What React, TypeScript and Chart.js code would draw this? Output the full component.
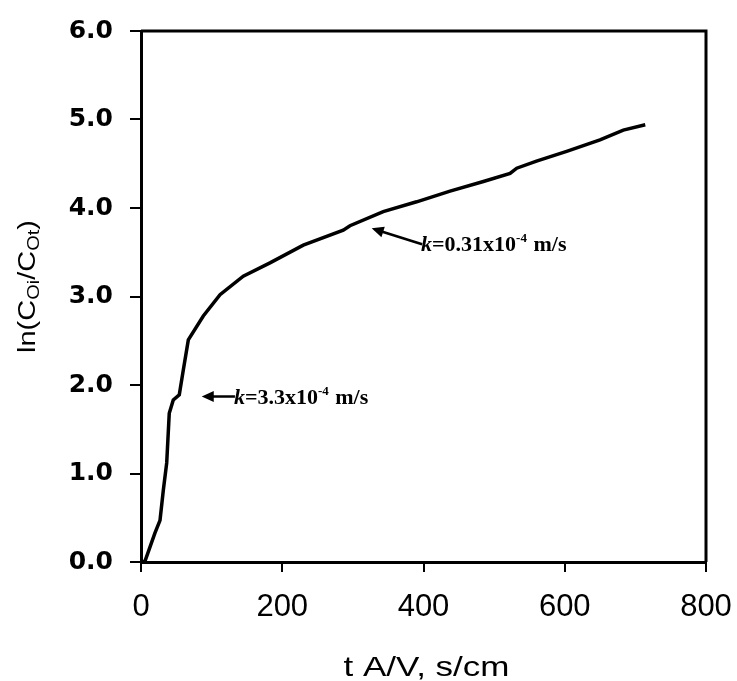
import React, { useEffect, useRef } from "react";
import { Chart, registerables } from "chart.js";

Chart.register(...registerables);

// Data
const tValues = [0, 5.7, 19.8, 26.9, 31.6, 36.4, 40, 45.7, 54.2, 59.9, 67, 88.2, 111.9, 144.8, 182.6, 229.8, 286.4, 295.9, 343, 390.3, 437.6, 484.8, 522.6, 532, 560, 602.7, 649.9, 682.9, 714];
const lnValues = [0, 0.01, 0.33, 0.47, 0.81, 1.12, 1.68, 1.83, 1.89, 2.17, 2.51, 2.78, 3.02, 3.23, 3.38, 3.58, 3.75, 3.8, 3.96, 4.07, 4.19, 4.3, 4.39, 4.45, 4.53, 4.64, 4.77, 4.88, 4.94];

const xTickValues = [0, 200, 400, 600, 800];
const yTickValues = [0, 1, 2, 3, 4, 5, 6];

const xTitle = "t A/V, s/cm";
const yTitleParts = [
  { text: "ln(C", sub: false },
  { text: "Oi", sub: true },
  { text: "/C", sub: false },
  { text: "Ot", sub: true },
  { text: ")", sub: false },
];

// annotations: arrow tip (data), arrow tail (data), label text
const annotations = [
  { tipX: 86, tipY: 1.87, tailX: 133, tailY: 1.87, pre: "=3.3x10", sup: "-4", post: " m/s" },
  { tipX: 326.6, tipY: 3.77, tailX: 398, tailY: 3.59, pre: "=0.31x10", sup: "-4", post: " m/s" },
];

const SANS = "'Liberation Sans', Arial, sans-serif";
const SERIF = "'Liberation Serif', 'Times New Roman', serif";

const overlayPlugin = {
  id: "overlay",
  afterDraw(chart: any) {
    const ctx = chart.ctx as CanvasRenderingContext2D;
    const area = chart.chartArea;
    const xs = chart.scales.x;
    const ys = chart.scales.y;
    ctx.save();

    // top and right frame lines
    ctx.strokeStyle = "#000";
    ctx.lineWidth = 3;
    ctx.beginPath();
    ctx.moveTo(area.left, area.top);
    ctx.lineTo(area.right, area.top);
    ctx.lineTo(area.right, area.bottom);
    ctx.stroke();

    // x title
    ctx.save();
    ctx.fillStyle = "#000";
    ctx.font = `28px ${SANS}`;
    ctx.textBaseline = "alphabetic";
    ctx.textAlign = "center";
    ctx.translate((area.left + area.right) / 2 + 3, 676);
    ctx.scale(1.25, 1);
    ctx.fillText(xTitle, 0, 0);
    ctx.restore();

    // y title with subscripts
    ctx.save();
    ctx.fillStyle = "#000";
    const mainSize = 29;
    const subSize = 20;
    ctx.translate(26, (area.top + area.bottom) / 2 - 10);
    ctx.rotate(-Math.PI / 2);
    ctx.scale(1, 0.85);
    let total = 0;
    const widths: number[] = [];
    for (const p of yTitleParts) {
      ctx.font = `${p.sub ? subSize : mainSize}px ${SANS}`;
      const w = ctx.measureText(p.text).width;
      widths.push(w);
      total += w;
    }
    let cx = -total / 2;
    ctx.textAlign = "left";
    ctx.textBaseline = "alphabetic";
    yTitleParts.forEach((p, i) => {
      ctx.font = `${p.sub ? subSize : mainSize}px ${SANS}`;
      ctx.fillText(p.text, cx, p.sub ? 15 : 10);
      cx += widths[i];
    });
    ctx.restore();

    // annotations
    for (const a of annotations) {
      const tx = xs.getPixelForValue(a.tipX);
      const ty = ys.getPixelForValue(a.tipY);
      const bx = xs.getPixelForValue(a.tailX);
      const by = ys.getPixelForValue(a.tailY);
      const ang = Math.atan2(ty - by, tx - bx);
      const hl = 12;
      const hw = 5.5;
      ctx.strokeStyle = "#000";
      ctx.fillStyle = "#000";
      ctx.lineWidth = 2.5;
      ctx.beginPath();
      ctx.moveTo(bx, by);
      ctx.lineTo(tx - Math.cos(ang) * hl * 0.8, ty - Math.sin(ang) * hl * 0.8);
      ctx.stroke();
      ctx.beginPath();
      ctx.moveTo(tx, ty);
      ctx.lineTo(tx - Math.cos(ang) * hl - Math.sin(ang) * hw, ty - Math.sin(ang) * hl + Math.cos(ang) * hw);
      ctx.lineTo(tx - Math.cos(ang) * hl + Math.sin(ang) * hw, ty - Math.sin(ang) * hl - Math.cos(ang) * hw);
      ctx.closePath();
      ctx.fill();

      // label
      let x = bx - 1;
      const base = by + 7;
      ctx.textAlign = "left";
      ctx.textBaseline = "alphabetic";
      ctx.font = `italic bold 22px ${SERIF}`;
      ctx.fillText("k", x, base);
      x += ctx.measureText("k").width;
      ctx.font = `bold 22px ${SERIF}`;
      ctx.fillText(a.pre, x, base);
      x += ctx.measureText(a.pre).width;
      ctx.font = `bold 13px ${SERIF}`;
      ctx.fillText(a.sup, x, base - 9);
      x += ctx.measureText(a.sup).width + 1;
      ctx.font = `bold 22px ${SERIF}`;
      ctx.fillText(a.post, x, base);
    }
    ctx.restore();
  },
};

export default function App() {
  const ref = useRef<HTMLCanvasElement | null>(null);
  useEffect(() => {
    if (!ref.current) return;
    const points = tValues.map((t, i) => ({ x: t, y: lnValues[i] }));
    const chart = new Chart(ref.current, {
      type: "line",
      data: {
        datasets: [
          {
            data: points,
            borderColor: "#000",
            borderWidth: 3.5,
            pointRadius: 0,
            tension: 0,
            fill: false,
          },
        ],
      },
      options: {
        animation: false,
        responsive: false,
        devicePixelRatio: 1,
        layout: { padding: { top: 31, right: 31, left: 0, bottom: 0 } },
        plugins: { legend: { display: false }, tooltip: { enabled: false } },
        scales: {
          x: {
            type: "linear",
            min: 0,
            max: 800,
            afterFit(scale: any) {
              scale.height = 119;
              scale.paddingLeft = 0;
              scale.paddingRight = 0;
            },
            afterBuildTicks(scale: any) {
              scale.ticks = xTickValues.map((v) => ({ value: v }));
            },
            ticks: {
              color: "#000",
              font: { family: SANS, size: 31 },
              padding: 17,
              maxRotation: 0,
              callback: (v: any) => String(v),
            },
            grid: {
              display: true,
              drawOnChartArea: false,
              drawTicks: true,
              tickLength: 10,
              color: "#000",
              lineWidth: 2,
            },
            border: { display: true, color: "#000", width: 3 },
          },
          y: {
            type: "linear",
            min: 0,
            max: 6,
            afterFit(scale: any) {
              scale.width = 141;
              scale.paddingTop = 0;
              scale.paddingBottom = 0;
            },
            afterBuildTicks(scale: any) {
              scale.ticks = yTickValues.map((v) => ({ value: v }));
            },
            ticks: {
              color: "#000",
              font: { family: "'DejaVu Sans', sans-serif", size: 25, weight: "bold" },
              padding: 17,
              callback: (v: any) => Number(v).toFixed(1),
            },
            grid: {
              display: true,
              drawOnChartArea: false,
              drawTicks: true,
              tickLength: 11,
              color: "#000",
              lineWidth: 2,
            },
            border: { display: true, color: "#000", width: 3 },
          },
        },
      },
      plugins: [overlayPlugin],
    });
    return () => chart.destroy();
  }, []);
  return (
    <div style={{ position: "absolute", left: 0, top: 0, width: 737, height: 681, background: "#fff" }}>
      <canvas ref={ref} width={737} height={681} style={{ display: "block", width: 737, height: 681 }} />
    </div>
  );
}
